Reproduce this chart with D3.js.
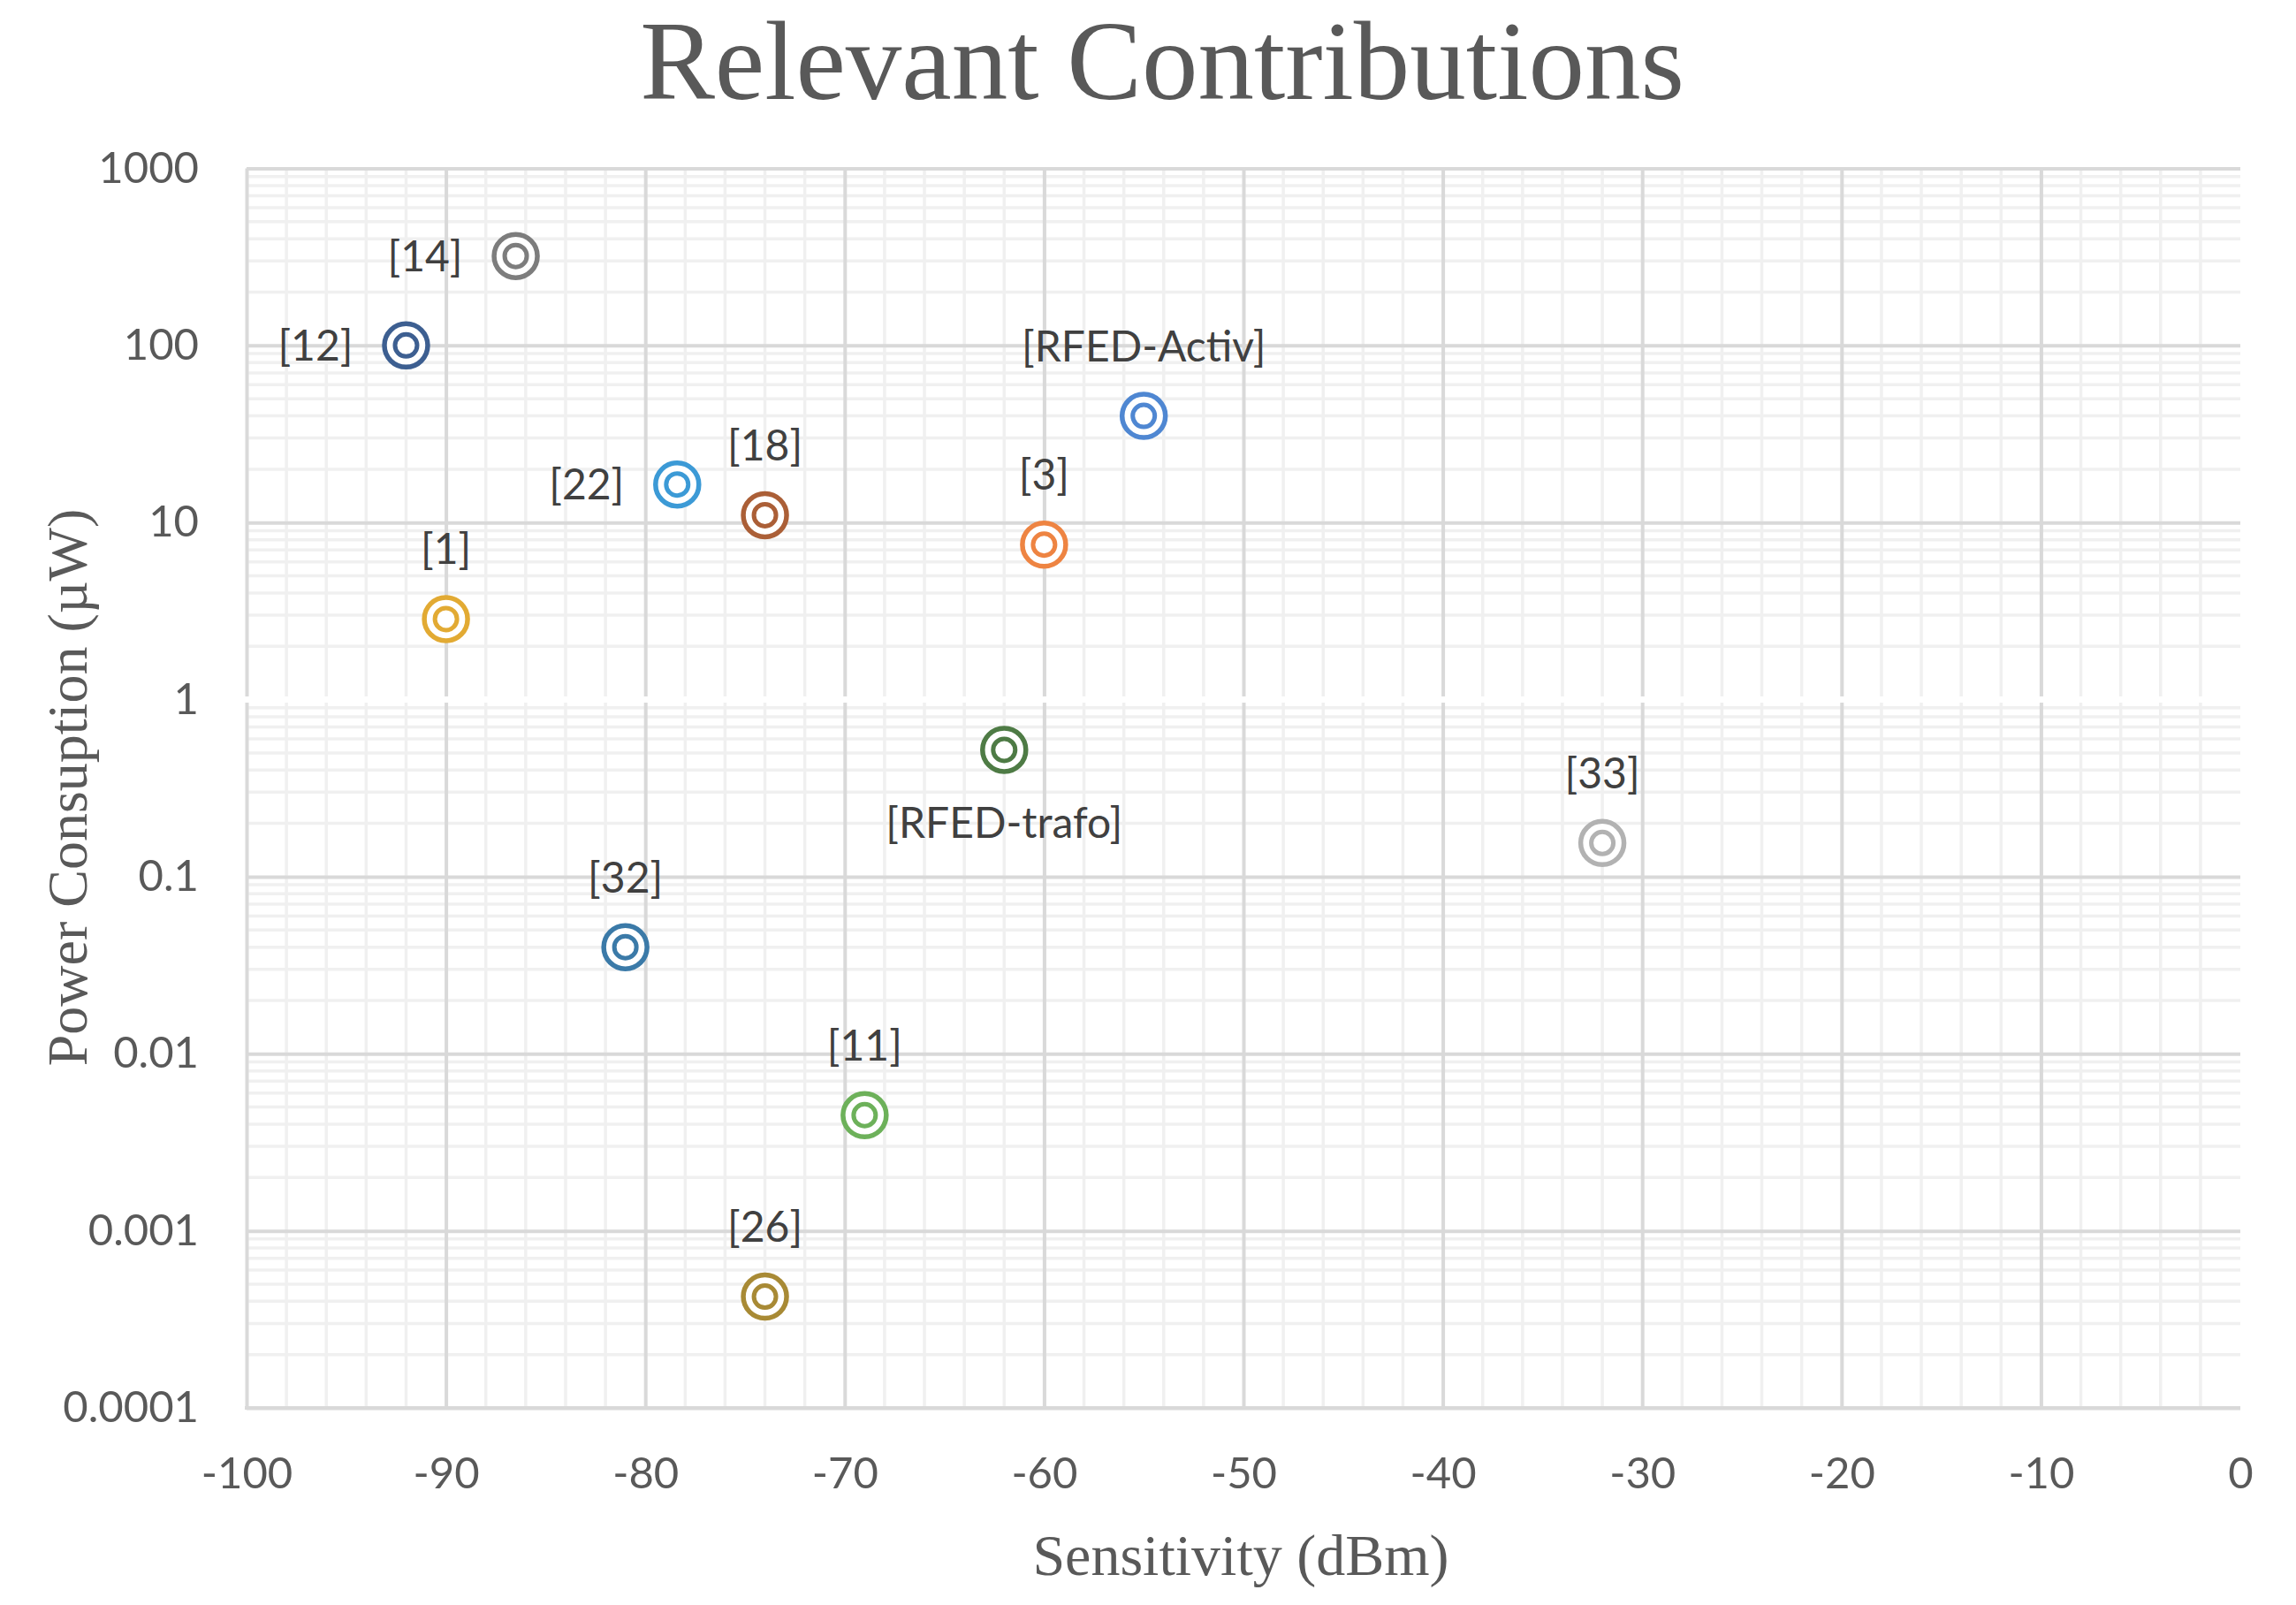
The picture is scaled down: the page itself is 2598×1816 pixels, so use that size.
<!DOCTYPE html>
<html>
<head>
<meta charset="utf-8">
<script src="https://cdn.jsdelivr.net/npm/d3@7"></script>
<style>
  body { margin: 0; background: #fff; }
</style>
</head>
<body>
<svg></svg>
<script>
// data
const labels      = ["[1]", "[3]", "[RFED-Activ]", "[22]", "[18]", "[12]", "[14]", "[RFED-trafo]", "[33]", "[32]", "[11]", "[26]"];
const sensitivity = [-90, -60, -55, -78.4, -74, -92, -86.5, -62, -32, -81, -69, -74];
const power       = [2.85, 7.5, 40, 16.4, 11, 100, 320, 0.52, 0.155, 0.04, 0.0045, 0.000425];
const labelSide   = ["above", "above", "above", "left", "above", "left", "left", "below", "above", "above", "above", "above"];
const colors      = ["#e2aa33", "#ee8442", "#4f87d2", "#3c9ad6", "#ab5f37", "#3d5f91",
                     "#7d7d7d", "#4e7b45", "#b2b2b2", "#3b7aa8", "#6db15a", "#a88a35"];
const xTicks = [-100, -90, -80, -70, -60, -50, -40, -30, -20, -10, 0];
const xTickLabels = ["-100", "-90", "-80", "-70", "-60", "-50", "-40", "-30", "-20", "-10", "0"];
const yTicks = [0.0001, 0.001, 0.01, 0.1, 1, 10, 100, 1000];
const yTickLabels = ["0.0001", "0.001", "0.01", "0.1", "1", "10", "100", "1000"];

const data = labels.map((l, i) => ({
  label: l, x: sensitivity[i], y: power[i], side: labelSide[i], color: colors[i]
}));

function draw() {
  const width = 2598, height = 1816;
  const margin = { top: 190.5, right: 63, bottom: 223, left: 279 };
  const innerWidth  = width - margin.left - margin.right;
  const innerHeight = height - margin.top - margin.bottom;

  const svg = d3.select("svg")
    .attr("width", width)
    .attr("height", height);

  const xScale = d3.scaleLinear().domain([-100, 0]).range([0, innerWidth]);
  const yScale = d3.scaleLog().domain([0.0001, 1000]).range([innerHeight, 0]);

  const g = svg.append("g")
    .attr("transform", `translate(${margin.left},${margin.top})`);

  // minor grid
  const xMinor = xScale.ticks(50).filter(v => v % 10 !== 0);
  const yMinor = yScale.ticks().filter(v => Math.abs(Math.log10(v) - Math.round(Math.log10(v))) > 1e-6);

  g.append("g").selectAll("line").data(yMinor).enter().append("line")
    .attr("x1", 0).attr("x2", innerWidth)
    .attr("y1", d => yScale(d)).attr("y2", d => yScale(d))
    .attr("stroke", "#f0f0f0").attr("stroke-width", 3.5);
  g.append("g").selectAll("line").data(xMinor).enter().append("line")
    .attr("x1", d => xScale(d)).attr("x2", d => xScale(d))
    .attr("y1", 0).attr("y2", innerHeight)
    .attr("stroke", "#f0f0f0").attr("stroke-width", 3.5);

  // major grid
  const xGrid = g.append("g")
    .attr("transform", `translate(0,${innerHeight})`)
    .call(d3.axisBottom(xScale).tickValues(xTicks.filter(v => v !== 0)).tickSize(-innerHeight).tickFormat(""));
  xGrid.select(".domain").remove();
  xGrid.selectAll(".tick line").attr("stroke", "#d9d9d9").attr("stroke-width", 4);

  const yGrid = g.append("g")
    .call(d3.axisLeft(yScale).tickValues(yTicks).tickSize(-innerWidth).tickFormat(""));
  yGrid.select(".domain").remove();
  yGrid.selectAll(".tick line").attr("stroke", "#d9d9d9").attr("stroke-width", 4);

  // the reference shows a white band along the 1 µW line
  g.append("line")
    .attr("x1", -4).attr("x2", innerWidth)
    .attr("y1", yScale(1)).attr("y2", yScale(1))
    .attr("stroke", "#fff").attr("stroke-width", 7);

  // x axis line
  g.append("line")
    .attr("x1", -2).attr("x2", innerWidth)
    .attr("y1", innerHeight).attr("y2", innerHeight)
    .attr("stroke", "#d9d9d9").attr("stroke-width", 4);

  // tick labels
  const xAxisG = g.append("g")
    .attr("transform", `translate(0,${innerHeight})`)
    .call(d3.axisBottom(xScale).tickValues(xTicks).tickSize(0).tickPadding(56)
      .tickFormat((d, i) => xTickLabels[i]));
  xAxisG.select(".domain").remove();
  xAxisG.selectAll(".tick text")
    .attr("fill", "#595959")
    .attr("font-family", "Lato, sans-serif")
    .attr("font-size", 49);

  const yAxisG = g.append("g")
    .call(d3.axisLeft(yScale).tickValues(yTicks).tickSize(0).tickPadding(54)
      .tickFormat((d, i) => yTickLabels[i]));
  yAxisG.select(".domain").remove();
  yAxisG.selectAll(".tick text")
    .attr("fill", "#595959")
    .attr("font-family", "Lato, sans-serif")
    .attr("font-size", 49);

  // markers
  const pts = g.append("g").selectAll("g").data(data).enter().append("g")
    .attr("transform", d => `translate(${xScale(d.x)},${yScale(d.y)})`);
  pts.append("circle")
    .attr("r", 24.5)
    .attr("fill", "#fff")
    .attr("stroke", d => d.color)
    .attr("stroke-width", 5.5);
  pts.append("circle")
    .attr("r", 12.5)
    .attr("fill", "none")
    .attr("stroke", d => d.color)
    .attr("stroke-width", 5);

  // data labels
  pts.append("text")
    .attr("font-family", "Lato, sans-serif")
    .attr("font-size", 48)
    .attr("fill", "#404040")
    .attr("text-anchor", d => d.side === "left" ? "end" : "middle")
    .attr("x", d => d.side === "left" ? -60 : 0)
    .attr("y", d => d.side === "above" ? -62 : d.side === "below" ? 100 : 17)
    .text(d => d.label);

  // titles
  svg.append("text")
    .attr("x", 1315).attr("y", 112)
    .attr("text-anchor", "middle")
    .attr("font-family", "'Liberation Serif', 'Times New Roman', serif")
    .attr("font-size", 127)
    .attr("fill", "#595959")
    .text("Relevant Contributions");

  svg.append("text")
    .attr("x", 1404).attr("y", 1782)
    .attr("text-anchor", "middle")
    .attr("font-family", "'Liberation Serif', 'Times New Roman', serif")
    .attr("font-size", 66)
    .attr("fill", "#595959")
    .text("Sensitivity (dBm)");

  svg.append("text")
    .attr("transform", "translate(98,891) rotate(-90)")
    .attr("text-anchor", "middle")
    .attr("font-family", "'Liberation Serif', 'Times New Roman', serif")
    .attr("font-size", 64)
    .attr("fill", "#595959")
    .text("Power Consuption (µW)");
}

draw();
</script>
</body>
</html>
